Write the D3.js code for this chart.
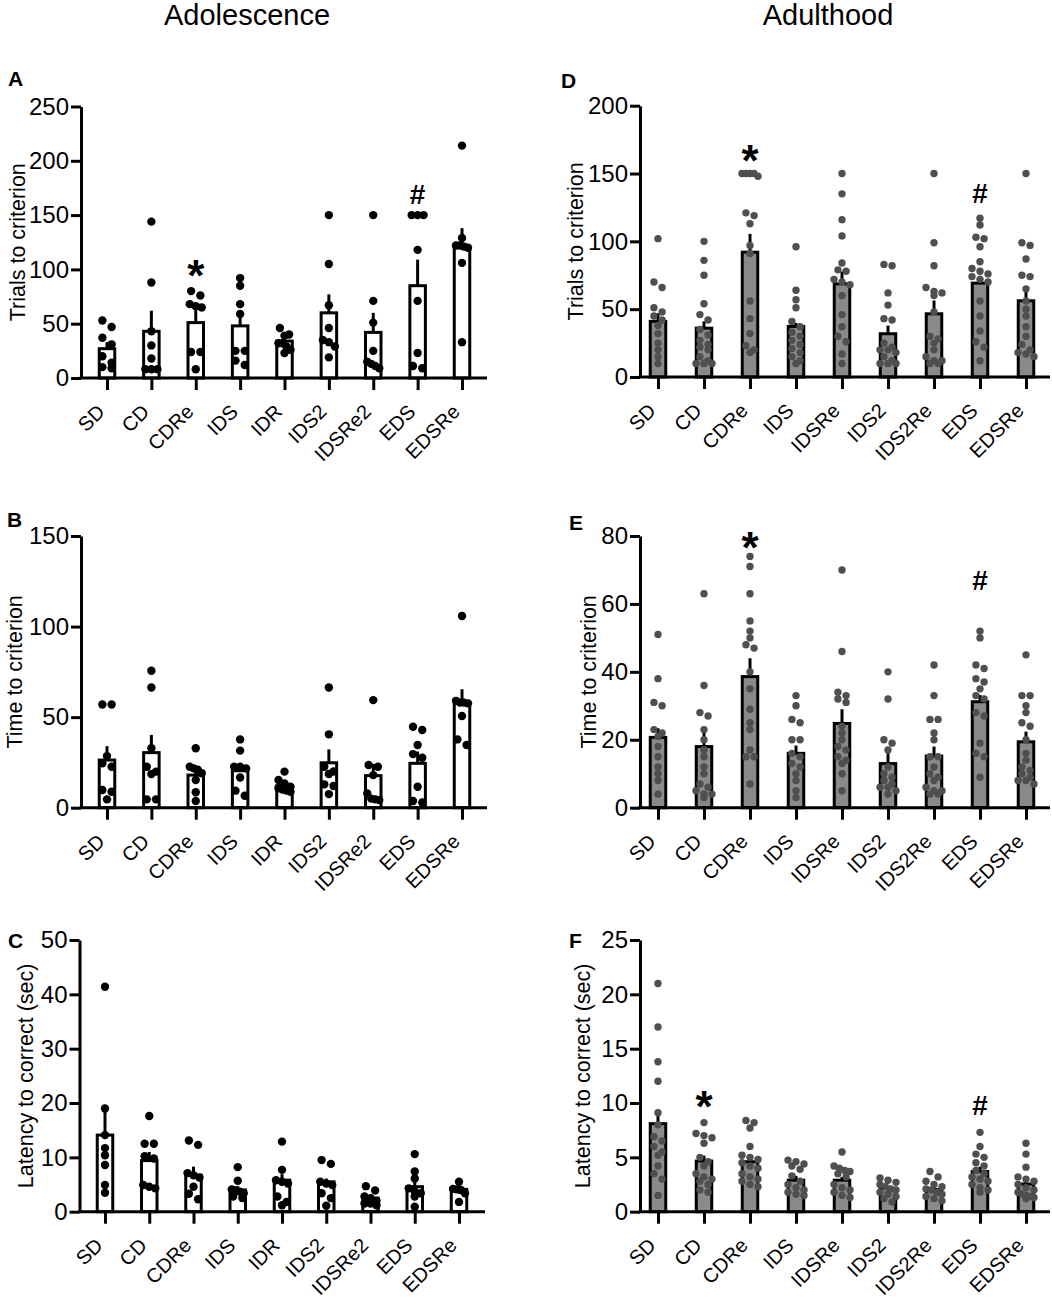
<!DOCTYPE html>
<html>
<head>
<meta charset="utf-8">
<script src="https://d3js.org/d3.v7.min.js"></script>
<style>
  body { margin: 0; background: #fff; }
  text { font-family: "Liberation Sans", Arial, Helvetica, sans-serif; }
</style>
</head>
<body>
<div id="chart"></div>
<script>
// categories
const catsAdol  = ["SD", "CD", "CDRe", "IDS", "IDR", "IDS2", "IDSRe2", "EDS", "EDSRe"];
const catsAdult = ["SD", "CD", "CDRe", "IDS", "IDSRe", "IDS2", "IDS2Re", "EDS", "EDSRe"];

// A - adolescence, trials to criterion
const meanA = [27, 43, 51, 48, 34, 60, 42, 85, 121];
const semA  = [6, 19, 15, 11, 3, 17, 18, 24, 17];
const ptsA = [
  [47, 53, 37, 31, 20, 14, 10, 9],
  [144, 88, 43, 30, 18, 8, 8, 8],
  [76, 80, 68, 66, 65, 24, 24, 8],
  [85, 92, 68, 59, 25, 25, 12, 16],
  [46, 40, 39, 32, 32, 29, 26, 23],
  [150, 105, 67, 46, 35, 33, 29, 19],
  [150, 71, 51, 25, 15, 13, 9, 11],
  [150, 150, 150, 118, 71, 23, 9, 11],
  [214, 129, 122, 122, 121, 120, 106, 33]
];

// B - adolescence, time to criterion
const meanB = [26.3, 30.4, 18, 20.4, 12.1, 24.8, 17.7, 24.5, 58];
const semB  = [7.7, 9.8, 3, 3.5, 1.3, 7.4, 6.5, 6.5, 7.4];
const ptsB = [
  [57, 57, 28.5, 22.6, 24.5, 9.8, 8.8, 4.6],
  [75.6, 66.4, 32.8, 22.6, 19.9, 18.6, 4.6, 4.6],
  [32.8, 22.6, 21.7, 21, 19, 15.3, 8.5, 3.7],
  [37.7, 31.5, 22.6, 22.6, 21.7, 16.7, 9.4, 6.6],
  [19.9, 15.3, 13.4, 11.6, 10.7, 8.8, 10, 9.5],
  [66.4, 40.5, 22.6, 18.6, 20, 12.9, 12, 7.5],
  [59.4, 23.6, 22.6, 18, 7.9, 4.2, 4.6, 5],
  [42.9, 44.7, 34.6, 29.6, 27.6, 11.6, 2.9, 3.7],
  [105.8, 58, 58, 57.6, 59, 50.6, 37.7, 34.6]
];

// C - adolescence, latency to correct
const meanC = [14.1, 9.4, 6.7, 4.0, 5.8, 5.5, 2.5, 4.6, 4.1];
const semC  = [4.9, 1.6, 1.6, 0.7, 1.1, 0.6, 0.4, 2.0, 0.6];
const ptsC = [
  [41.4, 19, 14.1, 11.7, 10.4, 8.6, 4.9, 3.5],
  [17.6, 12.5, 12.5, 10.2, 9.8, 4.9, 4.6, 4.3],
  [13.1, 12.3, 7.1, 6.3, 4.6, 3.3, 2.3, 6.7],
  [8.2, 5.7, 4.1, 3.7, 3.4, 2.8, 2.5, 3.9],
  [12.9, 7.7, 5.8, 5.2, 2.8, 1.8, 1.2, 5.5],
  [9.5, 8.8, 5.5, 5.2, 4.9, 3.4, 2.5, 1.1],
  [4.7, 3.9, 2.5, 2, 1.5, 1.2, 1.5, 2.8],
  [10.6, 7.4, 6.1, 3.4, 3.7, 2.8, 0.9, 4.3],
  [5.5, 4.1, 4.0, 4.2, 3.4, 1.8]
];

// D - adulthood, trials to criterion
const meanD = [41, 36, 92, 37.3, 68.7, 31.9, 46.6, 69.2, 56.2];
const semD  = [6, 5, 13.5, 2.5, 9, 6, 9.8, 5.4, 10.5];
const ptsD = [
  [102, 70, 66, 51, 48, 45, 42, 38, 32, 25, 20, 15, 10],
  [100, 86, 75, 54, 46, 42, 35, 31, 27, 24, 22, 20, 15, 12, 10, 10, 10],
  [150, 150, 150, 150, 148, 121, 119, 113, 97, 91, 56, 43, 32, 23, 18, 20],
  [96, 64, 57, 51, 41, 37, 33, 30, 27, 24, 21, 18, 15, 12, 10],
  [150, 135, 116, 104, 84, 79, 78, 72, 70, 68, 60, 46, 37, 30, 26, 17, 10],
  [83, 82, 62, 53, 43, 42, 25, 22, 20, 20, 18, 15, 12, 10, 10, 10],
  [150, 99, 82, 66, 63, 62, 60, 48, 30, 28, 25, 20, 15, 12, 10, 10, 12],
  [117, 112, 103, 102, 96, 85, 80, 78, 76, 74, 72, 70, 56, 45, 34, 26, 22, 12],
  [150, 99, 97, 87, 75, 74, 65, 56, 50, 45, 37, 30, 24, 20, 17, 15, 18]
];

// E - adulthood, time to criterion
const meanE = [20.7, 18, 38.6, 16, 24.8, 13, 15.2, 31.2, 19.4];
const semE  = [2.7, 4.9, 5.4, 2.3, 4.2, 4, 2.8, 2, 3];
const ptsE = [
  [51, 38, 31, 30, 23, 22, 21, 18, 15, 12, 10, 8, 4],
  [63, 36, 28, 27, 23, 20, 17, 15, 12, 10, 7, 6, 5, 4, 3, 4],
  [74, 71, 63, 55, 52, 50, 48, 47, 40, 35, 29, 25, 23, 17, 15, 15, 7],
  [33, 30, 26, 25, 20, 20, 16, 15, 13, 12, 10, 8, 3, 5],
  [70, 46, 34, 33, 32, 31, 24, 22, 20, 18, 17, 15, 14, 13, 10, 5],
  [40, 32, 20, 19, 17, 12, 10, 9, 8, 6, 5, 4, 7, 6],
  [42, 33, 26, 26, 22, 20, 15, 15, 12, 10, 9, 8, 6, 5, 4, 4, 5],
  [52, 50, 42, 41, 38, 37, 35, 33, 32, 28, 27, 19, 16, 15, 9],
  [45, 33, 33, 30, 28, 25, 24, 20, 16, 14, 12, 11, 9, 8, 7, 10, 8]
];

// F - adulthood, latency to correct
const meanF = [8.1, 4.66, 4.6, 2.9, 2.9, 2.15, 2.05, 3.7, 2.55];
const semF  = [1.1, 0.5, 0.45, 0.4, 0.3, 0.2, 0.2, 0.45, 0.4];
const ptsF = [
  [21, 17, 13.8, 12, 9.1, 8, 6.9, 6.5, 6, 5.5, 5.2, 4.2, 1.5, 3.5, 3],
  [8.2, 7.2, 7, 6.8, 6.3, 5, 4.6, 4.2, 3.5, 3.2, 3, 2.8, 2.5, 2, 1.8],
  [8.4, 8.2, 7.7, 6, 5.2, 5, 4.8, 4.5, 4.2, 4, 3.5, 3.2, 3, 2.8, 2.5, 2.3],
  [4.75, 4.6, 4.4, 4.2, 3.9, 3.3, 2.8, 2.5, 2.2, 2, 1.8, 1.6, 1.5],
  [5.5, 4.2, 4, 3.8, 3.7, 3.5, 3.2, 2.5, 2.2, 2, 1.8, 1.5, 1.3],
  [3.1, 2.9, 2.7, 2.5, 2.3, 2.1, 2, 1.8, 1.6, 1.4, 1.2, 0.9],
  [3.7, 3.2, 2.8, 2.5, 2.3, 2.1, 2, 1.8, 1.6, 1.4, 1.2, 1],
  [7.3, 6, 5.3, 5, 4.5, 4.2, 3.8, 3.5, 3.2, 3, 2.8, 2.5, 2.2, 2, 1.8],
  [6.3, 5.3, 4.1, 3.2, 3, 2.8, 2.5, 2.2, 2, 1.8, 1.6, 1.4, 1.2, 1.5, 1.3]
];

// significance marks: category, symbol, value level where it sits
const marksA = [["CDRe", "*", 102], ["EDS", "#", 169]];
const marksD = [["CDRe", "*", 166], ["EDS", "#", 136]];
const marksE = [["CDRe", "*", 79], ["EDS", "#", 67]];
const marksF = [["CD", "*", 10.5], ["EDS", "#", 9.8]];

const svg = d3.select("#chart").append("svg")
  .attr("width", 1052).attr("height", 1300)
  .style("background", "#fff");

svg.append("text").attr("x", 247).attr("y", 25).attr("text-anchor", "middle")
  .style("font-size", "29px").text("Adolescence");
svg.append("text").attr("x", 828).attr("y", 25).attr("text-anchor", "middle")
  .style("font-size", "29px").text("Adulthood");

const adol  = { fill: "#fff", dot: "#000", r: 4.2, spread: 6 };
const adult = { fill: "#8a8a8a", dot: "#4f4f4f", r: 3.7, spread: 8 };

// spread points that sit at (nearly) the same height into a row
function placeDots(vals, y, cx, r, spread) {
  const pts = vals.map(v => ({ v, py: y(v) })).sort((a, b) => a.py - b.py);
  const rows = [];
  let cur = null;
  pts.forEach(p => {
    if (cur && p.py - cur[0].py < r * 1.6) cur.push(p);
    else { cur = [p]; rows.push(cur); }
  });
  rows.forEach(row => {
    const k = row.length;
    const step = k > 1 ? Math.min(r * 2.2, 2 * spread / (k - 1)) : 0;
    row.forEach((p, i) => p.px = cx + (i - (k - 1) / 2) * step);
  });
  return pts;
}

function drawPanel(p) {
  const g = svg.append("g");
  const y = d3.scaleLinear().domain([0, p.yMax]).range([p.y0, p.yTop]);
  const x = d3.scalePoint().domain(p.cats).range([p.c0, p.c1]);

  // panel letter
  g.append("text").attr("x", p.lx).attr("y", p.ly)
    .style("font-size", "21px").style("font-weight", "bold").text(p.letter);

  // y title
  g.append("text")
    .attr("transform", `translate(${p.tx},${(p.y0 + p.yTop) / 2}) rotate(-90)`)
    .attr("text-anchor", "middle").style("font-size", "21.5px").text(p.title);

  const bw = 15.5;
  // bars
  g.selectAll(".bar").data(p.means).enter().append("rect")
    .attr("x", (d, i) => x(p.cats[i]) - bw / 2)
    .attr("y", d => y(d))
    .attr("width", bw)
    .attr("height", d => p.y0 - y(d))
    .attr("fill", p.style.fill).attr("stroke", "#000").attr("stroke-width", 3);

  // error bars (mean + SEM)
  g.selectAll(".err").data(p.means).enter().append("line")
    .attr("x1", (d, i) => x(p.cats[i])).attr("x2", (d, i) => x(p.cats[i]))
    .attr("y1", d => y(d)).attr("y2", (d, i) => y(d + p.sems[i]))
    .attr("stroke", "#000").attr("stroke-width", 3);

  // individual points
  p.pts.forEach((vals, i) => {
    const placed = placeDots(vals, y, x(p.cats[i]), p.style.r, p.style.spread);
    g.selectAll(null).data(placed).enter().append("circle")
      .attr("cx", d => d.px).attr("cy", d => d.py).attr("r", p.style.r)
      .attr("fill", p.style.dot);
  });

  // y axis
  const ya = g.append("g").attr("transform", `translate(${p.ax},0)`)
    .call(d3.axisLeft(y).tickValues(d3.range(0, p.yMax + 0.001, p.step))
      .tickSize(10).tickSizeOuter(0).tickPadding(2));
  ya.select(".domain").attr("stroke-width", 3);
  ya.selectAll(".tick line").attr("stroke-width", 3);
  ya.selectAll(".tick text").style("font-size", "24px")
    .style("font-family", '"Liberation Sans", Arial, sans-serif').attr("fill", "#000");

  // x axis
  const xa = g.append("g").attr("transform", `translate(0,${p.y0})`)
    .call(d3.axisBottom(x).tickSize(12).tickFormat(""));
  xa.select(".domain").remove();
  xa.selectAll(".tick line").attr("stroke-width", 3);
  g.append("line").attr("x1", p.ax - 1.5).attr("x2", p.axEnd)
    .attr("y1", p.y0).attr("y2", p.y0).attr("stroke", "#000").attr("stroke-width", 3);

  g.selectAll(".xl").data(p.cats).enter().append("text")
    .attr("transform", d => `translate(${x(d) - 1},${p.y0 + 35}) rotate(-45)`)
    .attr("text-anchor", "end").style("font-size", "20px").text(d => d);

  // significance marks
  (p.marks || []).forEach(([cat, sym, lev]) => {
    const star = sym === "*";
    g.append("text").attr("x", x(cat)).attr("y", y(lev) + (star ? 24 : 10))
      .attr("text-anchor", "middle").style("font-weight", "bold")
      .style("font-size", star ? "44px" : "28px").text(sym);
  });
}

const leftCol  = { ax: 81, c0: 107, c1: 462, axEnd: 487 };
const rightCol = { ax: 640, c0: 658, c1: 1026, axEnd: 1050 };

drawPanel(Object.assign({}, leftCol, { letter: "A", lx: 8, ly: 86, cats: catsAdol, means: meanA, sems: semA, pts: ptsA,
  yMax: 250, step: 50, y0: 378, yTop: 106.5, tx: 25, title: "Trials to criterion", style: adol, marks: marksA }));
drawPanel(Object.assign({}, leftCol, { letter: "B", lx: 7, ly: 527, cats: catsAdol, means: meanB, sems: semB, pts: ptsB,
  yMax: 150, step: 50, y0: 807.7, yTop: 536, tx: 22, title: "Time to criterion", style: adol }));
drawPanel(Object.assign({}, leftCol, { ax: 79.5, c0: 105, c1: 459, axEnd: 485, letter: "C", lx: 8, ly: 948, cats: catsAdol,
  means: meanC, sems: semC, pts: ptsC, yMax: 50, step: 10, y0: 1211.7, yTop: 940, tx: 33,
  title: "Latency to correct (sec)", style: adol }));
drawPanel(Object.assign({}, rightCol, { letter: "D", lx: 561, ly: 88, cats: catsAdult, means: meanD, sems: semD, pts: ptsD,
  yMax: 200, step: 50, y0: 377, yTop: 105.7, tx: 583, title: "Trials to criterion", style: adult, marks: marksD }));
drawPanel(Object.assign({}, rightCol, { letter: "E", lx: 569, ly: 530, cats: catsAdult, means: meanE, sems: semE, pts: ptsE,
  yMax: 80, step: 20, y0: 807.7, yTop: 536, tx: 596, title: "Time to criterion", style: adult, marks: marksE }));
drawPanel(Object.assign({}, rightCol, { letter: "F", lx: 569, ly: 948, cats: catsAdult, means: meanF, sems: semF, pts: ptsF,
  yMax: 25, step: 5, y0: 1211.7, yTop: 940, tx: 590, title: "Latency to correct (sec)", style: adult, marks: marksF }));
</script>
</body>
</html>
